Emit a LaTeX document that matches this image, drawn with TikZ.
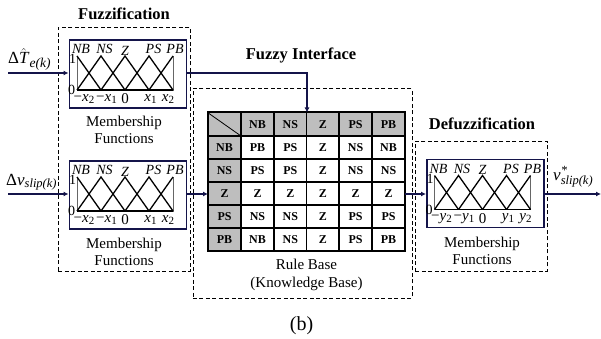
\documentclass[tikz,border=0pt]{standalone}
\usepackage{fontspec}
\setmainfont{Liberation Serif}
\usetikzlibrary{arrows.meta}
\definecolor{navy}{HTML}{14144A}
\definecolor{cellgray}{HTML}{BEBEBE}
\newcommand{\fs}[1]{\fontsize{#1}{#1}\selectfont}
\newcommand{\subx}[2]{\textit{#1}\raisebox{-2pt}{\fs{11}#2}}
\tikzset{
 x=1pt,y=-1pt,
 dashbox/.style={draw=black,line width=0.8pt,dash pattern=on 4pt off 2.5pt},
 mfbox/.style={draw=navy,line width=1.7pt,fill=white},
 flow/.style={draw=navy,line width=1.5pt,-{Latex[length=5pt,width=5pt]}},
 title/.style={font=\fs{16.5}\bfseries,inner sep=0pt},
 captext/.style={font=\fs{15},align=center,inner sep=0pt},
 mlab/.style={font=\fs{14}\itshape,inner sep=0pt},
 nlab/.style={font=\fs{14},inner sep=0pt},
 xlab/.style={font=\fs{15},inner sep=0pt},
 iolab/.style={font=\fs{17},inner sep=0pt,anchor=base west},
 mf/.style={draw=black,line width=1.3pt,line join=miter},
 ax/.style={draw=black!60,line width=0.8pt},
}
% #1 name, #2 x-left of box, #3 y-top of box, #4 letter
\newcommand{\mfblock}[4]{%
 \begin{scope}[shift={(#2,#3)}]
  \node[mfbox,minimum width=117pt,minimum height=68pt,anchor=north west,inner sep=0pt] (#1) at (0,0) {};
  \draw[ax] (8.5,17) -- (8.5,51) -- (104.5,51) -- (104.5,17);
  \draw[mf] (8.5,17) -- (32.5,51);
  \draw[mf] (8.5,51) -- (32.5,17) -- (56.5,51);
  \draw[mf] (32.5,51) -- (56.5,17) -- (80.5,51);
  \draw[mf] (56.5,51) -- (80.5,17) -- (104.5,51);
  \draw[mf] (80.5,51) -- (104.5,17);
  \draw[mf] (8.5,51) -- (104.5,51);
  \node[mlab] at (12.5,10) {NB};
  \node[mlab] at (36,10) {NS};
  \node[mlab] at (56.5,11.5) {Z};
  \node[mlab] at (85,10) {PS};
  \node[mlab] at (106.5,10) {PB};
  \node[nlab] at (4,20) {1};
  \node[nlab] at (3,51) {0};
  \node[xlab] at (15.5,60) {−\subx{#4}{2}};
  \node[xlab] at (38,60) {−\subx{#4}{1}};
  \node[xlab] at (56.5,60) {0};
  \node[xlab] at (82,60) {\subx{#4}{1}};
  \node[xlab] at (99.5,60) {\subx{#4}{2}};
 \end{scope}}
\begin{document}
\begin{tikzpicture}
\useasboundingbox (0,0) rectangle (601,339);
\fill[white] (0,0) rectangle (601,339);
% dashed groups
\node[dashbox,minimum width=132pt,minimum height=244pt,anchor=north west,inner sep=0pt] (fz) at (58,27) {};
\node[dashbox,minimum width=219pt,minimum height=209.5pt,anchor=north west,inner sep=0pt] (fi) at (192.5,88.5) {};
\node[dashbox,minimum width=132pt,minimum height=129.5pt,anchor=north west,inner sep=0pt] (dz) at (415,141) {};
% titles
\node[title] (t1) at (124,14) {Fuzzification};
\node[title] (t2) at (301,55) {Fuzzy Interface};
\node[title] (t3) at (482,124) {Defuzzification};
% membership blocks
\mfblock{mfa}{68.5}{39}{x}
\mfblock{mfb}{68.5}{160}{x}
\mfblock{mfc}{426}{158.5}{y}
\node[captext] (c1) at (124,130) {Membership\\[2pt]Functions};
\node[captext] (c2) at (124,251.5) {Membership\\[2pt]Functions};
\node[captext] (c3) at (482,250.5) {Membership\\[2pt]Functions};
% table
\begin{scope}
 \fill[cellgray] (208,112.5) rectangle (405,136);
 \fill[cellgray] (208,112.5) rectangle (241,251);
 \node[draw=none,inner sep=0pt,minimum width=197pt,minimum height=138.5pt,anchor=north west] (tb) at (208,112.5) {};
 \draw[line width=1.5pt] (208,136) -- (405,136) (208,159) -- (405,159) (208,182) -- (405,182) (208,205) -- (405,205) (208,228) -- (405,228);
 \draw[line width=1.5pt] (241,112.5) -- (241,251) (274,112.5) -- (274,251) (306.5,112.5) -- (306.5,251) (339,112.5) -- (339,251) (372,112.5) -- (372,251);
 \draw[line width=2pt] (tb.north west) rectangle (tb.south east);
 \draw[line width=0.8pt] (209,113.5) -- (241,136);
 \tikzset{cell/.style={font=\fs{12}\bfseries,inner sep=0pt}}
 \foreach \x/\t in {257.5/NB,290.25/NS,322.75/Z,355.5/PS,388.5/PB} \node[cell] at (\x,124.5) {\t};
 \foreach \y/\t in {147.5/NB,170.5/NS,193.5/Z,216.5/PS,239.5/PB} \node[cell] at (224.5,\y) {\t};
 \foreach \y/\a/\b/\c/\d/\e in {147.5/PB/PS/Z/NS/NB,170.5/PS/PS/Z/NS/NS,193.5/Z/Z/Z/Z/Z,216.5/NS/NS/Z/PS/PS,239.5/NB/NS/Z/PS/PB}{
  \node[cell] at (257.5,\y) {\a};
  \node[cell] at (290.25,\y) {\b};
  \node[cell] at (322.75,\y) {\c};
  \node[cell] at (355.5,\y) {\d};
  \node[cell] at (388.5,\y) {\e};
 }
\end{scope}
\node[captext] (rb) at (306.5,274.5) {Rule Base\\[3pt](Knowledge Base)};
\node[font=\fs{20},inner sep=0pt] (b) at (301.5,326) {(b)};
% connectors
\coordinate (ina) at (8,73);
\coordinate (inb) at (8,194);
\coordinate (out) at (601,194);
\coordinate (bend) at (307,73);
\draw[flow] (ina) -- (ina -| mfa.west);
\draw[flow] (inb) -- (inb -| mfb.west);
\draw[flow] (mfa.east |- ina) -- (bend) -- (bend |- tb.north);
\draw[flow] (mfb.east |- inb) -- (tb.west |- inb);
\draw[flow] (tb.east |- inb) -- (mfc.west |- inb);
\draw[flow] (mfc.east |- inb) -- (out);
% io labels
\node[iolab] (la) at (8,64) {Δ$\hat{\hbox{\fs{17}\itshape T}}$\kern1pt\raisebox{-4pt}{\fs{13.5}\itshape e(k)}};
\node[iolab] (lb) at (6,185) {Δ\textit{v}\raisebox{-2pt}{\fs{12.5}\itshape slip(k)}};
\node[iolab] (lc) at (553,180) {\textit{v}\rlap{\raisebox{6pt}{\fs{12.5}\itshape *}}\raisebox{-4pt}{\fs{12.5}\itshape slip(k)}};
\end{tikzpicture}
\end{document}
